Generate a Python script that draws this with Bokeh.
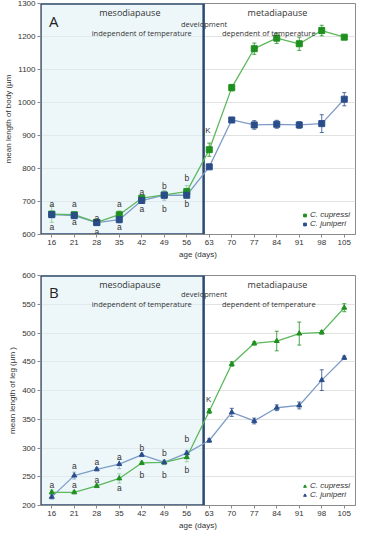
from bokeh.plotting import figure
from bokeh.layouts import column
from bokeh.models import (ColumnDataSource, Whisker, TeeHead, FixedTicker, Legend, LegendItem,
                          Range1d, Label)
from bokeh.embed import file_html
from bokeh.resources import INLINE
from bokeh.core.properties import value

# ---------------- data ----------------
ages = [16, 21, 28, 35, 42, 49, 56, 63, 70, 77, 84, 91, 98, 105]

body_cupressi = [662, 660, 637, 660, 710, 720, 730, 857, 1045, 1163, 1195, 1178, 1218, 1198]
body_cupressi_err = [25, 8, 5, 12, 6, 8, 18, 20, 10, 17, 16, 20, 16, 6]
body_juniperi = [660, 657, 636, 645, 703, 719, 719, 805, 947, 932, 934, 932, 936, 1010]
body_juniperi_err = [8, 8, 5, 10, 6, 15, 8, 6, 5, 13, 12, 10, 27, 20]

leg_cupressi = [223, 223, 234, 247, 274, 275, 284, 364, 446, 482, 486, 499, 501, 544]
leg_cupressi_err = [4, 3, 3, 8, 3, 3, 8, 4, 4, 3, 17, 20, 3, 7]
leg_juniperi = [215, 252, 263, 272, 288, 275, 291, 313, 362, 347, 370, 374, 418, 457]
leg_juniperi_err = [4, 6, 3, 8, 3, 4, 5, 3, 7, 5, 5, 6, 18, 3]

# significance letters (age index, value, letter)
body_letter_idx = [0, 0, 1, 1, 2, 2, 3, 3, 4, 4, 5, 5, 6, 6]
body_letter_val = [692, 622, 692, 637, 650, 609, 692, 624, 730, 676, 748, 676, 772, 692]
body_letter_txt = ["a", "a", "a", "a", "a", "a", "a", "a", "a", "a", "b", "b", "b", "b"]

leg_letter_idx = [0, 1, 1, 2, 2, 3, 3, 4, 4, 5, 5, 6, 6]
leg_letter_val = [236, 269, 236, 276, 245, 284, 231, 300, 253, 292, 253, 315, 262]
leg_letter_txt = ["a", "a", "a", "a", "a", "a", "a", "b", "b", "b", "b", "b", "b"]

GREEN_LINE = "#5cb85c"
GREEN_MARK = "#1f8f1f"
BLUE_LINE = "#7f9cc8"
BLUE_MARK = "#2a4d8a"
BOX_LINE = "#2b4a72"
FONT = "Liberation Sans"
FONT2 = "Open Sans"


def make_panel(letter, ylab, yr, ystep, g, ge, b, be, lidx, lval, ltxt, k_pos, head_y,
               marker, msize, height, top):
    idx = list(range(len(ages)))
    p = figure(width=358, height=height, output_backend="svg", toolbar_location=None,
               x_range=Range1d(-0.5, 13.5), y_range=Range1d(yr[0], yr[1]),
               min_border_left=28, min_border_right=3, min_border_top=top,
               min_border_bottom=28)
    p.background_fill_color = "white"
    p.border_fill_color = "white"
    p.outline_line_color = "#8a8a8a"
    p.xgrid.visible = False
    p.ygrid.grid_line_color = "#e2e2e2"

    # shaded mesodiapause region
    p.quad(left=[-0.5], right=[6.75], bottom=[yr[0]], top=[yr[1]],
           fill_color="#dff0f5", fill_alpha=0.55, line_color=BOX_LINE, line_width=2.5)

    src = ColumnDataSource(dict(x=idx, g=g, gl=[v - e for v, e in zip(g, ge)],
                                gu=[v + e for v, e in zip(g, ge)],
                                b=b, bl=[v - e for v, e in zip(b, be)],
                                bu=[v + e for v, e in zip(b, be)]))
    p.line("x", "b", source=src, line_color=BLUE_LINE, line_width=1.3)
    p.line("x", "g", source=src, line_color=GREEN_LINE, line_width=1.3)
    p.add_layout(Whisker(source=src, base="x", lower="bl", upper="bu", line_color=BLUE_MARK,
                         line_width=0.8,
                         upper_head=TeeHead(size=4, line_color=BLUE_MARK, line_width=0.8),
                         lower_head=TeeHead(size=4, line_color=BLUE_MARK, line_width=0.8)))
    p.add_layout(Whisker(source=src, base="x", lower="gl", upper="gu", line_color=GREEN_MARK,
                         line_width=0.8,
                         upper_head=TeeHead(size=4, line_color=GREEN_MARK, line_width=0.8),
                         lower_head=TeeHead(size=4, line_color=GREEN_MARK, line_width=0.8)))
    rg = p.scatter("x", "g", source=src, marker=marker, size=msize, fill_color=GREEN_MARK,
                   line_color=GREEN_MARK)
    rb = p.scatter("x", "b", source=src, marker=marker, size=msize, fill_color=BLUE_MARK,
                   line_color=BLUE_MARK)

    # letters
    p.text(x=lidx, y=lval, text=ltxt, text_font=value(FONT), text_font_size="8.5px",
           text_color="#333333", text_align="center", text_baseline="middle")
    p.text(x=[k_pos[0]], y=[k_pos[1]], text=["K"], text_font=value(FONT),
           text_font_size="8px", text_color="#333333", text_align="center",
           text_baseline="middle")

    # headers
    hy_top, hy_dev, hy_low, hy_letter = head_y
    hdr = [
        (3.47, hy_top, "mesodiapause", "9px"),
        (10.03, hy_top, "metadiapause", "9px"),
        (6.77, hy_dev, "development", "7.5px"),
        (4.0, hy_low, "independent of temperature", "7.5px"),
        (9.69, hy_low, "dependent  of temperature", "7.5px"),
    ]
    for hx, hyy, t, fs in hdr:
        p.add_layout(Label(x=hx, y=hyy, text=t, text_font=FONT2, text_font_size=fs,
                           text_color="#333333", text_align="center",
                           text_baseline="middle"))
    p.add_layout(Label(x=0.09, y=hy_letter, text=letter, text_font=FONT2,
                       text_font_size="15px", text_color="#222222", text_align="center",
                       text_baseline="middle"))

    # axes
    p.xaxis.ticker = FixedTicker(ticks=idx)
    p.xaxis.major_label_overrides = {i: str(a) for i, a in zip(idx, ages)}
    p.yaxis.ticker = FixedTicker(ticks=list(range(yr[0], yr[1] + 1, ystep)))
    for ax in (p.xaxis[0], p.yaxis[0]):
        ax.axis_line_color = "#8a8a8a"
        ax.major_tick_line_color = "#8a8a8a"
        ax.major_tick_out = 3
        ax.major_tick_in = 0
        ax.minor_tick_line_color = None
        ax.major_label_text_font = FONT
        ax.major_label_text_font_size = "8px"
        ax.major_label_text_color = "#333333"
        ax.axis_label_text_font = FONT
        ax.axis_label_text_font_size = "8px"
        ax.axis_label_text_font_style = "normal"
        ax.axis_label_text_color = "#333333"
        ax.major_label_standoff = 2
        ax.axis_label_standoff = 2
    p.xaxis.axis_label = "age (days)"
    p.yaxis.axis_label = ylab

    legend = Legend(items=[LegendItem(label="C. cupressi", renderers=[rg]),
                           LegendItem(label="C. juniperi", renderers=[rb])],
                    location=(259, 4), label_text_font=FONT, label_text_font_size="8px",
                    label_text_font_style="italic", label_text_color="#333333",
                    glyph_width=7, glyph_height=8, label_standoff=2, spacing=0, padding=2,
                    margin=0, label_height=8, background_fill_alpha=0, border_line_alpha=0)
    p.add_layout(legend)
    return p


pA = make_panel("A", "mean length of body (\u00b5m", (600, 1300), 100,
                body_cupressi, body_cupressi_err, body_juniperi, body_juniperi_err,
                body_letter_idx, body_letter_val, body_letter_txt, (6.94, 916),
                (1272, 1239, 1210, 1248), "square", 6, 262, 3)
pB = make_panel("B", "mean length of leg (\u00b5m )", (200, 600), 50,
                leg_cupressi, leg_cupressi_err, leg_juniperi, leg_juniperi_err,
                leg_letter_idx, leg_letter_val, leg_letter_txt, (6.97, 384),
                (584, 567, 550, 572), "triangle", 5, 271, 13)

layout = column(pA, pB, spacing=0)
open("out.html", "w").write(file_html(layout, INLINE))
